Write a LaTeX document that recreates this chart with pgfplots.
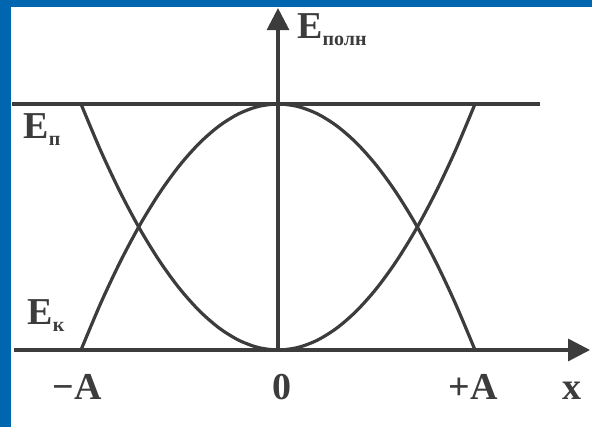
\documentclass[border=0pt]{standalone}
\usepackage{fontspec}
\setmainfont{Liberation Serif}
\usepackage{pgfplots}
\pgfplotsset{compat=1.18}
\usetikzlibrary{arrows.meta}

\definecolor{frameblue}{RGB}{0,102,176}
\definecolor{ink}{RGB}{60,60,60}

\tikzset{lbl/.style={font=\fontsize{19}{21}\selectfont\bfseries, text=ink, inner sep=0pt}}
\newcommand\sub[1]{\raisebox{-0.4ex}{\fontsize{10}{11}\selectfont #1}}

\begin{document}
\begin{tikzpicture}
\begin{axis}[
  width=296pt, height=213.5pt,
  scale only axis,
  hide axis,
  clip=false,
  xmin=-1.4112, xmax=1.5939,
  ymin=-0.3130, ymax=1.4228,
]
% blue frame (left and top)
\addplot[fill=frameblue, draw=none] coordinates {(-1.4112,-0.3130)(-1.3553,-0.3130)(-1.3553,1.4228)(-1.4112,1.4228)} -- cycle;
\addplot[fill=frameblue, draw=none] coordinates {(-1.4112,1.3943)(1.5939,1.3943)(1.5939,1.4228)(-1.4112,1.4228)} -- cycle;

% axes
\addplot[ink, line width=1.6pt, -{Triangle[length=11pt,width=11pt]}] coordinates {(-1.340,0)(1.584,0)};
\addplot[ink, line width=1.6pt, -{Triangle[length=11pt,width=11pt]}] coordinates {(0,0)(0,1.390)};

% total energy
\addplot[ink, line width=1.6pt] coordinates {(-1.350,1)(1.330,1)};

% kinetic energy
\addplot[ink, line width=1.6pt, smooth] coordinates {
  (-1,0)(-0.9,0.19)(-0.8,0.36)(-0.7,0.51)(-0.6,0.64)(-0.5,0.75)(-0.4,0.84)(-0.3,0.91)(-0.2,0.96)(-0.1,0.99)
  (0,1)(0.1,0.99)(0.2,0.96)(0.3,0.91)(0.4,0.84)(0.5,0.75)(0.6,0.64)(0.7,0.51)(0.8,0.36)(0.9,0.19)(1,0)};

% potential energy
\addplot[ink, line width=1.6pt, smooth] coordinates {
  (-1,1)(-0.9,0.81)(-0.8,0.64)(-0.7,0.49)(-0.6,0.36)(-0.5,0.25)(-0.4,0.16)(-0.3,0.09)(-0.2,0.04)(-0.1,0.01)
  (0,0)(0.1,0.01)(0.2,0.04)(0.3,0.09)(0.4,0.16)(0.5,0.25)(0.6,0.36)(0.7,0.49)(0.8,0.64)(0.9,0.81)(1,1)};

% labels
\node[lbl, anchor=base] at (axis cs:-1.020,-0.203) {−A};
\node[lbl, anchor=base] at (axis cs:0.020,-0.203) {0};
\node[lbl, anchor=base] at (axis cs:0.990,-0.203) {+A};
\node[lbl, anchor=base] at (axis cs:1.492,-0.203) {x};
\node[lbl, anchor=base west] at (axis cs:-1.294,0.860) {E\sub{п}};
\node[lbl, anchor=base west] at (axis cs:-1.274,0.102) {E\sub{к}};
\node[lbl, anchor=base west] at (axis cs:0.096,1.268) {E\sub{полн}};
\end{axis}
\end{tikzpicture}
\end{document}
